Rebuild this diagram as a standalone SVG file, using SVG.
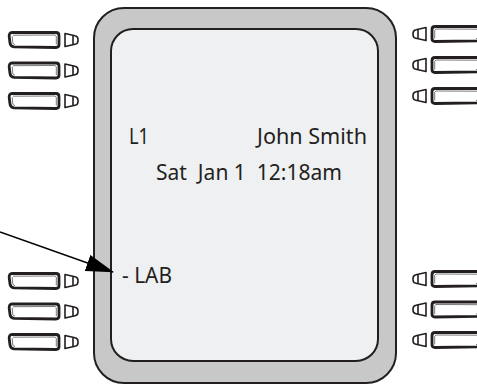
<svg xmlns="http://www.w3.org/2000/svg" width="477" height="384" viewBox="0 0 477 384">
  <style>
    .frame { fill: #c8c8c9; stroke: #231f20; stroke-width: 2; }
    .screen { fill: #eff0f2; stroke: #231f20; stroke-width: 2; }
    .btn { fill: #ffffff; stroke: #231f20; stroke-width: 2.8; stroke-linejoin: round; }
    .btnin { fill: none; stroke: #7a7a7a; stroke-width: 1; }
    .sbtn { fill: #ffffff; stroke: #231f20; stroke-width: 1.6; stroke-linejoin: round; }
    .txt { font-family: "Noto Sans", "Liberation Sans", sans-serif; font-size: 22px; fill: #231f20; white-space: pre; }
    .conn { stroke: #000000; stroke-width: 1.4; fill: none; }
  </style>
  <defs>
    <g id="bigBtn">
      <path class="btn" d="M12,-7.5 L56,-7.5 Q59,-7.5 59,-4.5 L59,4.5 Q59,7.5 56,7.5 L14,6.8 Q10.5,6.6 10,3 L9.2,-3.5 Q9,-7.5 12,-7.5 Z"/>
      <path class="btnin" d="M13,-4.8 L55,-5 L56.3,-3.8 L56.3,4.5 M12.2,-3.8 L12.8,3.3 L15,4.8"/>
    </g>
    <g id="smallBtn">
      <path class="sbtn" d="M65,-6.5 L75,-4.3 Q78,-3.8 78,-0.5 L78,0.5 Q78,3.8 75,4.3 L65,6.5 Z"/>
      <path class="sbtn" d="M73,-4.8 L73,4.8"/>
    </g>
    <g id="btnPair">
      <use href="#bigBtn"/>
      <use href="#smallBtn"/>
    </g>
    <marker id="arrow" markerUnits="userSpaceOnUse" viewBox="0 0 28 17" markerWidth="28" markerHeight="17" refX="27" refY="8.5" orient="auto">
      <path d="M0,0 L28,8.5 L0,17 Z" fill="#000000"/>
    </marker>
  </defs>

  <g id="display">
    <rect class="frame" x="94" y="8" width="302" height="375" rx="30" ry="30"/>
    <rect class="screen" x="111" y="29" width="267" height="332" rx="22" ry="22"/>
  </g>

  <g id="left-keys-top">
    <use href="#btnPair" transform="translate(0,40)"/>
    <use href="#btnPair" transform="translate(0,70.5)"/>
    <use href="#btnPair" transform="translate(0,101)"/>
  </g>
  <g id="left-keys-bottom">
    <use href="#btnPair" transform="translate(0,281)"/>
    <use href="#btnPair" transform="translate(0,311.5)"/>
    <use href="#btnPair" transform="translate(0,342)"/>
  </g>
  <g id="right-keys-top">
    <use href="#btnPair" transform="translate(491,34) scale(-1,1)"/>
    <use href="#btnPair" transform="translate(491,65) scale(-1,1)"/>
    <use href="#btnPair" transform="translate(491,96) scale(-1,1)"/>
  </g>
  <g id="right-keys-bottom">
    <use href="#btnPair" transform="translate(491,279) scale(-1,1)"/>
    <use href="#btnPair" transform="translate(491,309.5) scale(-1,1)"/>
    <use href="#btnPair" transform="translate(491,340) scale(-1,1)"/>
  </g>

  <g id="screen-text">
    <text class="txt" x="129" y="144" textLength="20" lengthAdjust="spacingAndGlyphs">L1</text>
    <text class="txt" x="257" y="144" textLength="110" lengthAdjust="spacingAndGlyphs">John Smith</text>
    <text class="txt" x="156" y="180" textLength="186" lengthAdjust="spacingAndGlyphs" xml:space="preserve">Sat  Jan 1  12:18am</text>
    <text id="lab-label" class="txt" x="122" y="283" textLength="50" lengthAdjust="spacingAndGlyphs">- LAB</text>
  </g>

  <g id="connectors">
    <line class="conn" x1="0" y1="232" x2="113" y2="272" marker-end="url(#arrow)"/>
  </g>
</svg>
